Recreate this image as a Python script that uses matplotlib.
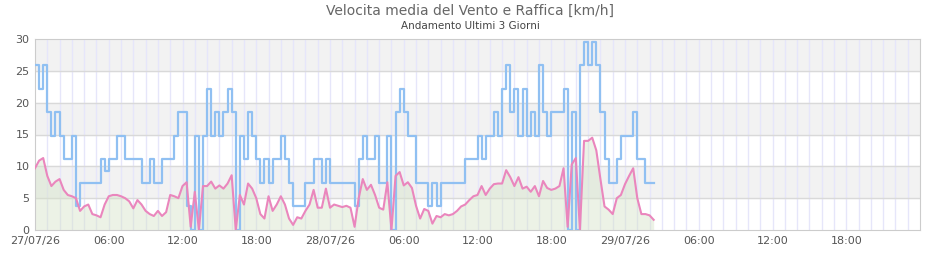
import numpy as np
import matplotlib
matplotlib.use("Agg")
import matplotlib.pyplot as plt

# gust (raffica) and average wind speed, km/h, sampled every 20 minutes from 27/07/26 00:00
raffica = [
    25.9, 22.2, 25.9,  18.5, 14.8, 18.5,  14.8, 11.1, 11.1,  14.8, 3.7, 7.4,
    7.4, 7.4, 7.4,  7.4, 11.1, 9.3,  11.1, 11.1, 14.8,  14.8, 11.1, 11.1,
    11.1, 11.1, 7.4,  7.4, 11.1, 7.4,  7.4, 11.1, 11.1,  11.1, 14.8, 18.5,
    18.5, 3.7, 0.0,  14.8, 0.0, 14.8,  22.2, 14.8, 18.5,  14.8, 18.5, 22.2,
    18.5, 0.0, 14.8,  11.1, 18.5, 14.8,  11.1, 7.4, 11.1,  7.4, 11.1, 11.1,
    14.8, 11.1, 7.4,  3.7, 3.7, 3.7,  7.4, 7.4, 11.1,  11.1, 7.4, 11.1,
    7.4, 7.4, 7.4,  7.4, 7.4, 7.4,  3.7, 11.1, 14.8,  11.1, 11.1, 14.8,
    7.4, 7.4, 14.8,  0.0, 18.5, 22.2,  18.5, 14.8, 14.8,  7.4, 7.4, 7.4,
    3.7, 7.4, 3.7,  7.4, 7.4, 7.4,  7.4, 7.4, 7.4,  11.1, 11.1, 11.1,
    14.8, 11.1, 14.8,  14.8, 18.5, 14.8,  22.2, 25.9, 18.5,  22.2, 14.8, 22.2,
    14.8, 18.5, 14.8,  25.9, 18.5, 14.8,  18.5, 18.5, 18.5,  22.2, 0.0, 18.5,
    0.0, 25.9, 29.6,  25.9, 29.6, 25.9,  18.5, 11.1, 7.4,  7.4, 11.1, 14.8,
    14.8, 14.8, 18.5,  11.1, 11.1, 7.4,  7.4, 7.4,
]
media = [
    9.7, 10.9, 11.3,  8.5, 6.9, 7.6,  8.0, 6.3, 5.5,  5.3, 5.0, 3.0,
    3.7, 4.0, 2.5,  2.3, 2.0, 4.0,  5.3, 5.5, 5.5,  5.3, 5.0, 4.5,
    3.4, 4.7, 4.0,  3.0, 2.5, 2.2,  3.0, 2.2, 2.8,  5.5, 5.3, 5.0,
    6.9, 7.5, 0.5,  6.0, 0.0, 6.9,  6.9, 7.6, 6.5,  7.0, 6.5, 7.3,
    8.6, 0.0, 5.5,  4.0, 7.3, 6.5,  5.0, 2.5, 1.8,  5.3, 3.0, 4.0,
    5.3, 4.0, 1.8,  0.8, 2.0, 1.8,  3.0, 4.0, 6.3,  3.5, 3.5, 6.5,
    3.5, 4.0, 3.8,  3.6, 3.8, 3.5,  0.5, 5.0, 8.0,  6.3, 7.1, 5.5,
    3.5, 3.2, 7.5,  0.0, 8.5, 9.1,  7.0, 7.5, 6.6,  3.8, 1.8, 3.3,
    3.0, 1.0, 2.2,  2.0, 2.5, 2.3,  2.5, 3.0, 3.7,  4.0, 4.7, 5.3,
    5.5, 6.9, 5.5,  6.5, 7.2, 7.3,  7.3, 9.4, 8.3,  6.9, 8.3, 6.5,
    6.8, 6.0, 6.9,  5.3, 7.7, 6.6,  6.3, 6.5, 6.9,  9.7, 0.5, 10.3,
    11.3, 0.0, 14.0,  14.0, 14.5, 12.5,  8.0, 3.7, 3.2,  2.5, 5.0, 5.5,
    7.2, 8.5, 9.7,  5.0, 2.5, 2.5,  2.3, 1.6,
]
tick_labels = ["27/07/26", "06:00", "12:00", "18:00",
               "28/07/26", "06:00", "12:00", "18:00",
               "29/07/26", "06:00", "12:00", "18:00"]

ore = np.arange(len(media)) / 3.0

fig = plt.figure(figsize=(9.4, 2.6), dpi=100)
ax = fig.add_axes([35 / 940, 30 / 260, 885 / 940, 191 / 260])

# alternating bands and grid
for y0 in (5, 15, 25):
    ax.axhspan(y0, y0 + 5, color="#f2f2f2", zorder=0)
for h in range(1, 72):
    ax.axvline(h, color="#e6e6fa", lw=1, zorder=1)
for y in (5, 10, 15, 20, 25):
    ax.axhline(y, color="#d9d9d9", lw=1, zorder=1)

ax.fill_between(ore, media, color="#d5e3c8", alpha=0.45, lw=0, zorder=2)
ax.plot(ore, raffica, drawstyle="steps-post", color="#90c0f2", lw=1.6, zorder=3)
ax.plot(ore, media, color="#ea86bd", lw=1.5, zorder=4)

ax.set_xlim(0, 72)
ax.set_ylim(0, 30)
ax.set_yticks([0, 5, 10, 15, 20, 25, 30])
ax.set_xticks(np.arange(0, 72, 6))
ax.set_xticklabels(tick_labels)
ax.tick_params(length=0, labelsize=8, colors="#555555", pad=4)
for s in ax.spines.values():
    s.set_color("#cccccc")

fig.text(0.5, 0.96, "Velocita media del Vento e Raffica [km/h]",
         ha="center", va="center", fontsize=10, color="#666666")
fig.text(0.5, 0.9, "Andamento Ultimi 3 Giorni",
         ha="center", va="center", fontsize=7.5, color="#444444")

fig.savefig("out.png", dpi=100)
